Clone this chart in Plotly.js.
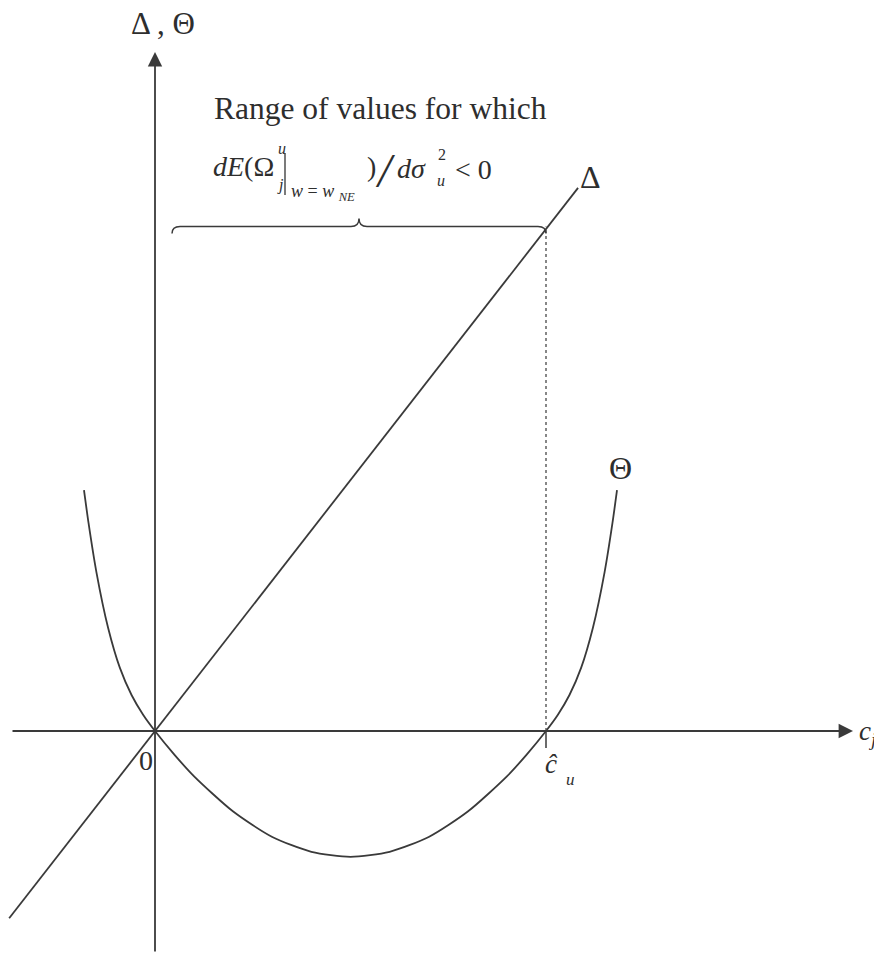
<!DOCTYPE html>
<html>
<head>
<meta charset="utf-8">
<script src="https://cdn.plot.ly/plotly-3.0.1.min.js"></script>
<style>
  html, body { margin: 0; padding: 0; background: #ffffff; }
  #chart { width: 874px; height: 953px; }
</style>
</head>
<body>
<div id="chart"></div>
<script>
// Δ: straight line through the origin
const deltaX = [-0.373, 1.082];
const deltaY = [-0.479, 1.389];

// Θ: U-shaped curve, zero at 0 and at ĉ_u = 1, rising steeply outside that range
const thetaX = [-0.1816, -0.17, -0.15, -0.12, -0.09, -0.06, -0.03, 0.0, 0.05, 0.1, 0.2, 0.3, 0.4, 0.5,
                0.6, 0.7, 0.8, 0.9, 0.95, 1.0, 1.03, 1.06, 1.09, 1.12, 1.15, 1.17, 1.1816];
const thetaY = [0.616, 0.532, 0.407, 0.264, 0.162, 0.092, 0.041, 0.0, -0.061, -0.116, -0.206, -0.271, -0.309, -0.322,
                -0.309, -0.271, -0.206, -0.116, -0.061, 0.0, 0.041, 0.092, 0.162, 0.264, 0.407, 0.532, 0.616];

// critical value ĉ_u and the top of the bracketed range
const cHat = 1.0;
const rangeStart = 0.0435;
const rangeTop = 1.29;

// page geometry: origin at (155, 731) px, 391 px per unit on both axes
const W = 874, H = 953, OX = 155, OY = 731, U = 391;
const fx = px => (px - OX) / U;
const fy = py => (OY - py) / U;

const ink = '#3a3a3a';
const serif = 'Liberation Serif, Times New Roman, serif';

const traces = [
  { x: deltaX, y: deltaY, mode: 'lines', line: { color: ink, width: 1.8 }, hoverinfo: 'skip' },
  { x: thetaX, y: thetaY, mode: 'lines', line: { color: ink, width: 1.8, shape: 'spline', smoothing: 0.7 }, hoverinfo: 'skip' },
  { x: [cHat, cHat], y: [0, rangeTop], mode: 'lines', line: { color: '#555', width: 1.4, dash: 'dot' }, hoverinfo: 'skip' }
];

// curly brace over the range [rangeStart, cHat]
function bracePath(x0, x1, y) {
  const mid = (x0 + x1) / 2;
  const hx = 8 / U, hook = 7 / U, cusp = 8 / U;
  return `M ${x0},${y - hook} Q ${x0},${y} ${x0 + hx},${y} ` +
         `L ${mid - hx},${y} Q ${mid},${y} ${mid},${y + cusp} ` +
         `Q ${mid},${y} ${mid + hx},${y} L ${x1 - hx},${y} ` +
         `Q ${x1},${y} ${x1},${y - hook}`;
}

const shapes = [
  { type: 'path', xref: 'x', yref: 'y', path: bracePath(rangeStart, cHat, rangeTop), line: { color: ink, width: 1.5 } },
  // small tick under the axis at ĉ_u
  { type: 'line', xref: 'x', yref: 'y', x0: cHat, x1: cHat, y0: 0, y1: fy(748), line: { color: ink, width: 1.5 } },
  // evaluation bar in the formula
  { type: 'line', xref: 'x', yref: 'y', x0: fx(285), x1: fx(285), y0: fy(153), y1: fy(195), line: { color: '#333', width: 1.3 } }
];

function txt(text, px, py, size, anchor, extra) {
  return Object.assign({
    xref: 'x', yref: 'y', x: fx(px), y: fy(py), text: text, showarrow: false,
    xanchor: anchor || 'center', yanchor: 'middle',
    font: { family: serif, size: size, color: '#2e2e2e' }
  }, extra || {});
}

function arrow(x, y, ax, ay) {
  return {
    xref: 'x', yref: 'y', axref: 'x', ayref: 'y', x: x, y: y, ax: ax, ay: ay,
    text: '', showarrow: true, arrowhead: 2, arrowsize: 1.6, arrowwidth: 1.8, arrowcolor: ink
  };
}

const annotations = [
  arrow(fx(853), 0, fx(11), 0),
  arrow(0, fy(52), 0, fy(953)),
  txt('Δ , Θ', 163, 23, 31),
  txt('Range of values for which', 212, 108, 31.5, 'left'),
  txt('<i>dE</i>(Ω', 211, 166, 28, 'left'),
  txt('<i>u</i>', 276, 148, 16, 'left'),
  txt('<i>j</i>', 275, 185, 16, 'left'),
  txt('<i>w</i> = <i>w</i> <sub><i>NE</i></sub>', 289, 192, 18, 'left'),
  txt(')', 365, 166, 28, 'left'),
  txt('<i>/</i>', 385, 170, 48),
  txt('<i>dσ</i>', 395, 168, 28, 'left'),
  txt('2', 436, 154, 16, 'left'),
  txt('<i>u</i>', 435, 180, 16, 'left'),
  txt('< 0', 453, 169, 28, 'left'),
  txt('Δ', 590, 177, 32),
  txt('Θ', 620, 468, 32),
  txt('0', 146, 760, 28),
  txt('<i>ĉ</i>', 551, 764, 27),
  txt('<i>u</i>', 570, 779, 17),
  txt('<i>c</i><sub><i>j</i></sub>', 857, 733, 27, 'left')
];

const layout = {
  width: W, height: H,
  margin: { l: 0, r: 0, t: 0, b: 0 },
  paper_bgcolor: '#ffffff', plot_bgcolor: '#ffffff',
  showlegend: false,
  xaxis: { range: [fx(0), fx(W)], visible: false, fixedrange: true },
  yaxis: { range: [fy(H), fy(0)], visible: false, fixedrange: true },
  shapes: shapes,
  annotations: annotations
};

Plotly.newPlot('chart', traces, layout, { staticPlot: true, displayModeBar: false });
</script>
</body>
</html>
